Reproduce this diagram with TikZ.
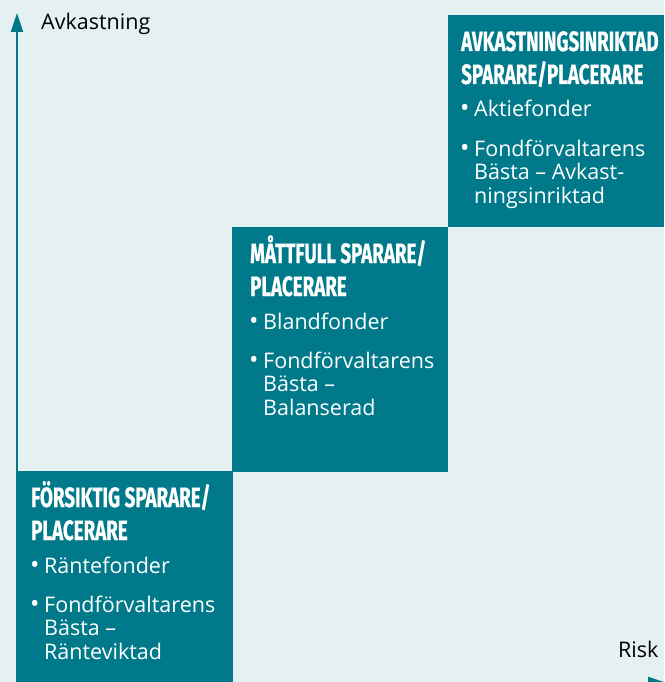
\documentclass[tikz,border=0pt]{standalone}
\usepackage{fontspec}
\setmainfont{Open Sans}
\newfontfamily\headfont[FakeStretch=0.67,FakeBold=0.6]{Fira Sans}
\usetikzlibrary{arrows.meta}
\definecolor{petrol}{RGB}{0,122,138}
\definecolor{paper}{RGB}{229,240,242}

\begin{document}
\begin{tikzpicture}[x=1pt,y=-1pt,
  stepbox/.style={
    rectangle,
    fill=petrol,
    draw=none,
    inner sep=0pt,
    outer sep=0pt,
    anchor=north west,
    minimum width=216pt
  },
  head/.style={
    anchor=base west,
    inner sep=0pt,
    text=white,
    font=\headfont\bfseries\fontsize{28}{33}\selectfont
  },
  item/.style={
    anchor=base west,
    inner sep=0pt,
    text=white,
    font=\fontsize{21.5}{24}\selectfont
  },
  dot/.style={
    anchor=base west,
    inner sep=0pt,
    text=white,
    font=\fontsize{25}{25}\selectfont
  },
  lbl/.style={
    anchor=base west,
    inner sep=0pt,
    font=\fontsize{21.5}{24}\selectfont
  },
  axis/.style={
    draw=petrol,
    line width=2pt,
    -{Triangle[width=12pt,length=19pt]}
  }]
  \fill[paper] (0,0) rectangle (664,682);
  \clip (0,0) rectangle (664,682);
  % axes
  \coordinate (origin) at (17,683);
  \coordinate (ytop) at (17,13);
  \coordinate (xend) at (667,683);
  \draw[axis] (origin) -- (ytop);
  \draw[axis] (origin) -- (xend);
  \node[lbl] (ylabel) at (41,30) {Avkastning};
  \node[lbl] (xlabel) at (618,657) {Risk};
  % steps
  \node[stepbox, minimum height=215pt] (box1) at (17,471) {};
  \node[stepbox, minimum height=245pt] (box2) at (232,227) {};
  \node[stepbox, minimum height=212pt] (box3) at (448,15) {};
  \foreach \n/\x/\t/\ha/\hb/\ia/\ib/\ic/\id in {
    1/31/471/{FÖRSIKTIG SPARARE/}/PLACERARE/Räntefonder/Fondförvaltarens/{Bästa –}/Ränteviktad,
    2/250/227/{MÅTTFULL SPARARE/}/PLACERARE/Blandfonder/Fondförvaltarens/{Bästa –}/Balanserad,
    3/461/15/AVKASTNINGSINRIKTAD/{SPARARE/PLACERARE}/Aktiefonder/Fondförvaltarens/{Bästa – Avkast-}/ningsinriktad}{
    \node[head] (head\n-a) at (\x,\t+36) {\ha};
    \node[head] (head\n-b) at (\x,\t+69) {\hb};
    \node[dot] (dot\n-a) at (\x-1,\t+102) {•};
    \node[item] (item\n-a) at (\x+13,\t+102) {\ia};
    \node[dot] (dot\n-b) at (\x-1,\t+141) {•};
    \node[item] (item\n-b) at (\x+13,\t+141) {\ib};
    \node[item] (item\n-c) at (\x+13,\t+164.5) {\ic};
    \node[item] (item\n-d) at (\x+13,\t+188) {\id};
  }
\end{tikzpicture}
\end{document}
